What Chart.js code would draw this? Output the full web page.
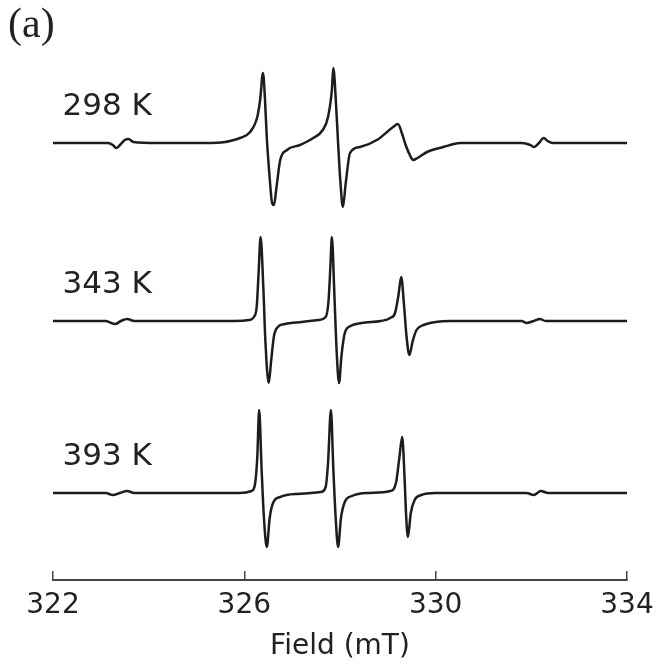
<!DOCTYPE html>
<html>
<head>
<meta charset="utf-8">
<script src="https://cdn.jsdelivr.net/npm/chart.js@4.4.0/dist/chart.umd.min.js"></script>
<style>
  html, body { margin: 0; padding: 0; background: #fff; }
</style>
</head>
<body>
<canvas id="myChart" width="662" height="664"></canvas>
<script>
// EPR spectra at three temperatures, field in mT, signal in arbitrary units
const tempLabels = ['298 K', '343 K', '393 K'];

const field298 = [322.00, 322.80, 323.15, 323.25, 323.32, 323.40, 323.50, 323.58, 323.68, 324.20, 325.20, 325.60, 325.70,
  325.91, 326.12, 326.27, 326.33, 326.39, 326.43, 326.47, 326.53, 326.58, 326.62, 326.67, 326.75, 326.89, 327.16, 327.44,
  327.64, 327.75, 327.83, 327.86, 327.91, 327.96, 328.01, 328.06, 328.12, 328.21, 328.42, 328.77, 329.11, 329.21, 329.30,
  329.38, 329.46, 329.53, 329.62, 329.82, 330.16, 330.51, 331.00, 331.80, 331.98, 332.06, 332.16, 332.26, 332.34, 332.45, 334.00];
const signal298 = [0, 0, 0, -2, -5, -2, 3, 4, 1, 0, 0, 1, 2,
  5, 11, 26, 43, 70, 45, 5, -35, -60, -62, -45, -17, -7, -2, 5,
  13, 26, 53, 75, 45, 0, -40, -64, -40, -10, -4, 3, 16, 19, 9,
  -3, -12, -17, -15, -9, -4, 0, 0, 0, -2, -4, 0, 5, 2, 0, 0];

const field343 = [322.00, 323.10, 323.22, 323.30, 323.42, 323.55, 323.70, 325.80, 326.10, 326.20, 326.26, 326.30, 326.34,
  326.40, 326.44, 326.51, 326.56, 326.62, 326.70, 326.85, 327.20, 327.55, 327.70, 327.76, 327.80, 327.83, 327.88, 327.92,
  327.98, 328.03, 328.10, 328.22, 328.45, 328.85, 329.05, 329.15, 329.22, 329.28, 329.34, 329.39, 329.45, 329.52, 329.60,
  329.75, 330.00, 330.30, 331.80, 331.90, 332.05, 332.18, 332.30, 334.00];
const signal343 = [0, 0, -2, -3, 0, 2, 0, 0, 1, 4, 15, 50, 84,
  30, -20, -62, -40, -15, -6, -3, -1, 1, 4, 20, 55, 84, 30, -20,
  -62, -35, -12, -5, -2, 0, 3, 8, 25, 44, 15, -15, -34, -20, -9,
  -4, -1, 0, 0, -2, 0, 2, 0, 0];

const field393 = [322.00, 323.10, 323.25, 323.40, 323.55, 323.70, 325.90, 326.15, 326.22, 326.27, 326.31, 326.36, 326.41,
  326.47, 326.53, 326.60, 326.75, 327.10, 327.60, 327.70, 327.75, 327.81, 327.86, 327.91, 327.96, 328.02, 328.10, 328.25,
  328.60, 329.05, 329.17, 329.24, 329.30, 329.35, 329.38, 329.42, 329.48, 329.56, 329.70, 330.00, 331.90, 332.05, 332.20,
  332.35, 334.00];
const signal393 = [0, 0, -2, 0, 2, 0, 0, 2, 8, 35, 83, 25, -25,
  -54, -25, -10, -4, -1, 1, 6, 30, 83, 25, -25, -54, -25, -9, -3,
  0, 2, 10, 35, 56, 15, -20, -44, -20, -7, -2, 0, 0, -2, 2,
  0, 0];

// vertical placement of each trace on the shared y scale
const offsets = [437, 259, 87];

const fields = [field298, field343, field393];
const signals = [signal298, signal343, signal393];

const datasets = tempLabels.map((label, i) => ({
  label: label,
  data: fields[i].map((f, j) => ({ x: f, y: signals[i][j] + offsets[i] })),
  borderColor: '#1d1d1d',
  borderWidth: 2.5,
  pointRadius: 0,
  cubicInterpolationMode: 'monotone',
  fill: false,
}));

const labelPlugin = {
  id: 'labelPlugin',
  beforeDraw(chart) {
    const ctx = chart.ctx;
    ctx.save();
    ctx.fillStyle = '#fff';
    ctx.fillRect(0, 0, chart.width, chart.height);
    ctx.restore();
  },
  afterDatasetsDraw(chart) {
    const ctx = chart.ctx;
    const xs = chart.scales.x;
    const ys = chart.scales.y;
    ctx.save();
    ctx.fillStyle = '#222';
    ctx.textBaseline = 'alphabetic';
    ctx.textAlign = 'left';
    ctx.font = '31px "DejaVu Sans"';
    tempLabels.forEach((t, i) => {
      ctx.fillText(t, xs.getPixelForValue(322.2), ys.getPixelForValue(offsets[i] + 28));
    });
    ctx.font = '42px "Liberation Serif"';
    ctx.fillText('(a)', 8, 37);
    ctx.restore();
  }
};

const ctx = document.getElementById('myChart').getContext('2d');
const myChart = new Chart(ctx, {
  type: 'line',
  data: { datasets: datasets },
  options: {
    responsive: false,
    animation: false,
    layout: { padding: { left: 53, right: 35, top: 40, bottom: 0 } },
    plugins: { legend: { display: false }, tooltip: { enabled: false } },
    scales: {
      x: {
        type: 'linear',
        min: 322,
        max: 334,
        ticks: {
          stepSize: 4,
          color: '#222',
          maxRotation: 0,
          padding: 18,
          font: { family: 'DejaVu Sans', size: 28 },
        },
        grid: { drawOnChartArea: false, tickLength: -9, color: '#444', lineWidth: 1.5 },
        border: { color: '#444', width: 2 },
        title: {
          display: true,
          text: 'Field (mT)',
          color: '#222',
          font: { family: 'DejaVu Sans', size: 28 },
          padding: { top: 0, bottom: 0 },
        },
        afterFit: (scale) => {
          scale.height = 84;
          scale.paddingLeft = 0;
          scale.paddingRight = 0;
        },
      },
      y: {
        display: false,
        min: 0,
        max: 540,
      },
    },
  },
  plugins: [labelPlugin],
});
</script>
</body>
</html>
